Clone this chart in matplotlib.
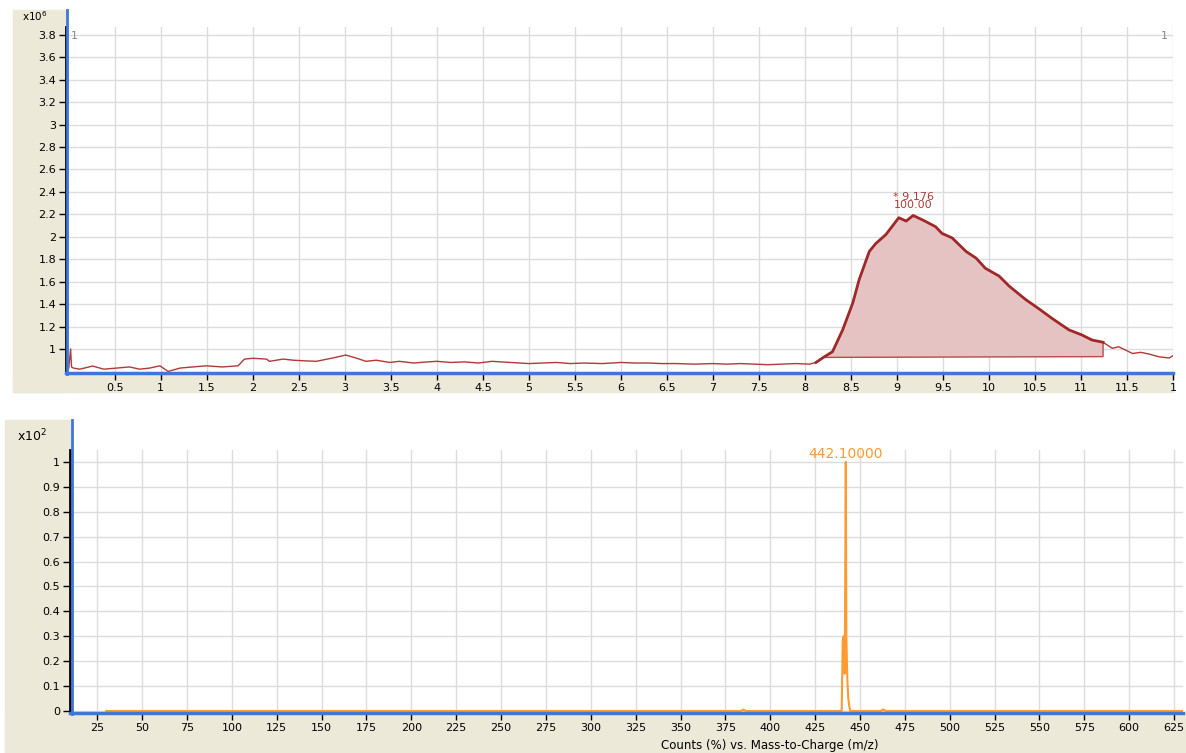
import numpy as np
import matplotlib
matplotlib.use("Agg")
import matplotlib.pyplot as plt
from matplotlib.patches import Rectangle
from matplotlib.lines import Line2D

# chromatogram (top) - retention time vs counts (x10^6)
rt = [0.0, 0.02, 0.03, 0.05, 0.12, 0.26, 0.38, 0.52, 0.66, 0.77, 0.88, 0.99, 1.08, 1.21, 1.35,
      1.49, 1.67, 1.84, 1.91, 2.0, 2.15, 2.18, 2.33, 2.44, 2.55, 2.69, 2.87, 3.01, 3.12, 3.23,
      3.34, 3.49, 3.59, 3.75, 3.9, 4.0, 4.15, 4.3, 4.45, 4.6, 4.8, 5.0, 5.15, 5.3, 5.45, 5.6,
      5.8, 6.0, 6.15, 6.3, 6.45, 6.6, 6.8, 7.0, 7.15, 7.3, 7.45, 7.6, 7.75, 7.9, 8.05, 8.12]
counts = [0.83, 1.0, 0.84, 0.83, 0.82, 0.848, 0.82, 0.83, 0.84, 0.82, 0.83, 0.85, 0.80, 0.83, 0.84,
          0.85, 0.84, 0.85, 0.91, 0.917, 0.91, 0.89, 0.91, 0.90, 0.895, 0.89, 0.92, 0.946, 0.92, 0.89,
          0.90, 0.88, 0.89, 0.875, 0.885, 0.89, 0.88, 0.885, 0.875, 0.89, 0.88, 0.87, 0.875, 0.88, 0.87, 0.875,
          0.87, 0.88, 0.875, 0.875, 0.87, 0.87, 0.865, 0.87, 0.865, 0.87, 0.865, 0.86, 0.865, 0.87, 0.865, 0.88]

# integrated peak
peak_rt = [8.21, 8.30, 8.41, 8.52, 8.59, 8.70, 8.77, 8.88, 9.02, 9.10, 9.176, 9.28, 9.42, 9.49,
           9.60, 9.75, 9.86, 9.96, 10.11, 10.22, 10.40, 10.54, 10.69, 10.87, 11.01, 11.12, 11.24]
peak_counts = [0.93, 0.976, 1.17, 1.41, 1.62, 1.87, 1.94, 2.02, 2.17, 2.14, 2.19, 2.15, 2.09, 2.03,
               1.99, 1.87, 1.81, 1.72, 1.65, 1.56, 1.44, 1.36, 1.27, 1.17, 1.125, 1.08, 1.06]
peak_base = [0.925, 0.932]

tail_rt = [11.24, 11.34, 11.41, 11.56, 11.65, 11.74, 11.85, 11.96, 12.0]
tail_counts = [1.06, 1.006, 1.02, 0.96, 0.97, 0.955, 0.93, 0.92, 0.94]

# mass spectrum (bottom) - m/z vs counts (%, x10^2)
mz = [30, 383.5, 385, 386.5, 439.8, 440.4, 440.9, 441.5, 442.1, 442.4, 442.7, 443.0, 443.5,
      444.0, 444.6, 461.5, 463, 464.5, 630]
abund = [0.0, 0.0, 0.006, 0.0, 0.0, 0.28, 0.30, 0.15, 1.0, 0.30, 0.20, 0.12, 0.05,
         0.02, 0.0, 0.0, 0.006, 0.0, 0.0]

rt_ticks = [0.5, 1, 1.5, 2, 2.5, 3, 3.5, 4, 4.5, 5, 5.5, 6, 6.5, 7, 7.5, 8, 8.5, 9, 9.5, 10, 10.5, 11, 11.5, 12]
rt_labels = ["0.5", "1", "1.5", "2", "2.5", "3", "3.5", "4", "4.5", "5", "5.5", "6", "6.5", "7", "7.5",
             "8", "8.5", "9", "9.5", "10", "10.5", "11", "11.5", "1"]
cnt_ticks = [1, 1.2, 1.4, 1.6, 1.8, 2, 2.2, 2.4, 2.6, 2.8, 3, 3.2, 3.4, 3.6, 3.8]
mz_ticks = list(range(25, 626, 25))
ab_ticks = [0, 0.1, 0.2, 0.3, 0.4, 0.5, 0.6, 0.7, 0.8, 0.9, 1]

BEIGE = "#ECE9D8"
BLUE = "#3D78D8"
GRID = "#DCDCDC"
RED = "#A02828"
ORANGE = "#FF9A2E"

plt.rcParams['font.family'] = ['DejaVu Sans']

W, H = 1186, 753
fig = plt.figure(figsize=(W / 100, H / 100), dpi=100)


def beige(x0, y0, x1, y1):
    # rectangle given in pixel coords (top-left origin), drawn behind the axes
    fig.add_artist(Rectangle((x0 / W, 1 - y1 / H), (x1 - x0) / W, (y1 - y0) / H,
                             transform=fig.transFigure, color=BEIGE, zorder=-10))


# L-shaped beige frames: left strip + bottom strip
beige(13, 10, 67, 392)
beige(13, 373, 1173, 392)
beige(5, 420, 72, 753)
beige(5, 713, W, 753)

ax1 = fig.add_axes([66 / W, 1 - 373 / H, (1173 - 66) / W, (373 - 27) / H])
ax2 = fig.add_axes([70 / W, 1 - 713 / H, (1183 - 70) / W, (713 - 450) / H])


def style(ax):
    ax.set_facecolor("white")
    ax.grid(True, color=GRID, lw=1)
    ax.set_axisbelow(True)
    for s in ["top", "right"]:
        ax.spines[s].set_visible(False)
    ax.spines["left"].set_color("black")
    ax.spines["left"].set_linewidth(2)
    ax.spines["bottom"].set_color(BLUE)
    ax.spines["bottom"].set_linewidth(2.5)
    ax.tick_params(direction="out", length=5, width=1, color="black", labelsize=8, pad=2)


# top chromatogram
style(ax1)
ax1.plot(rt, counts, color="#B23838", lw=1)
ax1.plot(tail_rt, tail_counts, color="#B23838", lw=1)
fill_x = peak_rt + [peak_rt[-1], peak_rt[0]]
fill_y = peak_counts + [peak_base[1], peak_base[0]]
ax1.fill(fill_x, fill_y, facecolor="#E6C3C3", edgecolor="#B84A4A", lw=1)
ax1.plot([rt[-1]] + peak_rt, [counts[-1]] + peak_counts, color=RED, lw=2)
ax1.set_xlim(-0.03, 12.0)
ax1.set_ylim(0.786, 3.87)
ax1.set_xticks(rt_ticks)
ax1.set_xticklabels(rt_labels)
ax1.set_yticks(cnt_ticks)
ax1.set_yticklabels([f"{v:g}" for v in cnt_ticks])
ax1.text(9.176, 2.235, "* 9.176\n100.00", color="#B03A3A", fontsize=8,
         ha="center", va="bottom", linespacing=0.85)
ax1.text(0.004, 0.988, "1", transform=ax1.transAxes, color="#888888", fontsize=8, va="top")
ax1.text(0.995, 0.988, "1", transform=ax1.transAxes, color="#888888", fontsize=8, va="top", ha="right")
fig.text(35 / W, 1 - 16 / H, r"x10$^{6}$", fontsize=7.5, ha="center", va="center")

# bottom spectrum
style(ax2)
ax2.plot(mz, abund, color=ORANGE, lw=1.5)
ax2.set_xlim(9.8, 630)
ax2.set_ylim(-0.008, 1.048)
ax2.set_xticks(mz_ticks)
ax2.set_yticks(ab_ticks)
ax2.set_yticklabels([f"{v:g}" for v in ab_ticks])
ax2.text(442.1, 1.003, "442.10000", color=ORANGE, fontsize=10, ha="center", va="bottom")
fig.text(32 / W, 1 - 436 / H, r"x10$^{2}$", fontsize=9, ha="center", va="center")
fig.text(770 / W, 1 - 745 / H, "Counts (%) vs. Mass-to-Charge (m/z)", fontsize=8.5, ha="center", va="center")

# blue left axis bars extending into the header
fig.add_artist(Line2D([67 / W, 67 / W], [1 - 10 / H, 1 - 374 / H], color=BLUE, lw=2))
fig.add_artist(Line2D([71.5 / W, 71.5 / W], [1 - 420 / H, 1 - 714 / H], color=BLUE, lw=2))

fig.savefig("out.png", dpi=100)
